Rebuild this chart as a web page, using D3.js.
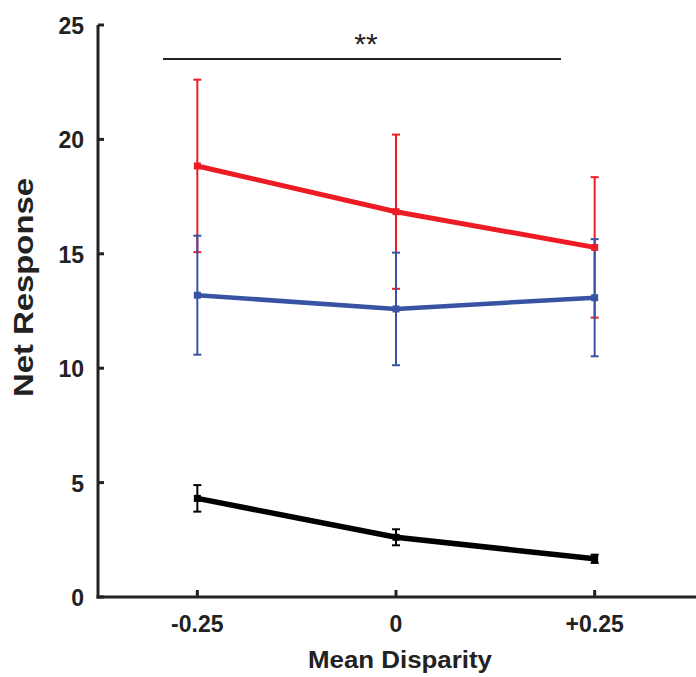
<!DOCTYPE html>
<html>
<head>
<meta charset="utf-8">
<script src="https://cdn.jsdelivr.net/npm/d3@7"></script>
<style>
  body { margin: 0; background: #fff; }
  text { font-family: "Liberation Sans", Arial, sans-serif; fill: #222; }
</style>
</head>
<body>
<svg id="grafico" width="696" height="677"></svg>
<script>
// Datos
var disparidades = [-0.25, 0, 0.25];
var etiquetasX = ["-0.25", "0", "+0.25"];
var ticksY = [0, 5, 10, 15, 20, 25];

var rojoMedia = [18.84, 16.84, 15.28];
var rojoError = [3.77, 3.37, 3.07];
var azulMedia = [13.19, 12.59, 13.08];
var azulError = [2.6, 2.46, 2.56];
var negroMedia = [4.31, 2.61, 1.67];
var negroError = [0.58, 0.35, 0.18];

var series = [
    { media: rojoMedia, error: rojoError, color: "#ed1c24", grosor: 5 },
    { media: azulMedia, error: azulError, color: "#3853a4", grosor: 4.5 },
    { media: negroMedia, error: negroError, color: "#000000", grosor: 5.5 }
];

var svg = d3.select("#grafico");

var x = d3.scaleLinear().domain([-0.375, 0.375]).range([98, 694]);
var y = d3.scaleLinear().domain([0, 25]).range([597, 25]);

// Ejes
svg.append("line")
    .attr("x1", x(-0.375)).attr("x2", x(-0.375))
    .attr("y1", y(25)).attr("y2", y(0) + 1.5)
    .attr("stroke", "#222").attr("stroke-width", 3);
svg.append("line")
    .attr("x1", x(-0.375) - 1.5).attr("x2", 696)
    .attr("y1", y(0)).attr("y2", y(0))
    .attr("stroke", "#222").attr("stroke-width", 3);

ticksY.forEach(function(t){
    svg.append("line")
        .attr("x1", x(-0.375)).attr("x2", x(-0.375) + 6)
        .attr("y1", y(t)).attr("y2", y(t))
        .attr("stroke", "#222").attr("stroke-width", 3);
    svg.append("text")
        .attr("x", 84).attr("y", y(t) + 1)
        .attr("text-anchor", "end")
        .attr("dominant-baseline", "central")
        .style("font-weight", "bold")
        .style("font-size", "23px")
        .text(t);
});

disparidades.forEach(function(d, i){
    svg.append("line")
        .attr("x1", x(d)).attr("x2", x(d))
        .attr("y1", y(0)).attr("y2", y(0) - 7)
        .attr("stroke", "#222").attr("stroke-width", 3);
    svg.append("text")
        .attr("x", x(d)).attr("y", 624)
        .attr("text-anchor", "middle")
        .attr("dominant-baseline", "central")
        .style("font-weight", "bold")
        .style("font-size", "23px")
        .text(etiquetasX[i]);
});

// Títulos de ejes
svg.append("text")
    .attr("x", 308).attr("y", 668)
    .attr("textLength", 184)
    .attr("lengthAdjust", "spacingAndGlyphs")
    .style("font-weight", "bold")
    .style("font-size", "23px")
    .text("Mean Disparity");
svg.append("text")
    .attr("transform", "translate(33,397) rotate(-90)")
    .attr("textLength", 219)
    .attr("lengthAdjust", "spacingAndGlyphs")
    .style("font-weight", "bold")
    .style("font-size", "28px")
    .text("Net Response");

// Barras de error
series.forEach(function(s){
    var g = svg.append("g");
    disparidades.forEach(function(d, i){
        var arriba = y(s.media[i] + s.error[i]);
        var abajo = y(s.media[i] - s.error[i]);
        g.append("line")
            .attr("x1", x(d)).attr("x2", x(d))
            .attr("y1", arriba).attr("y2", abajo)
            .attr("stroke", s.color).attr("stroke-width", 2);
        [arriba, abajo].forEach(function(yy){
            g.append("line")
                .attr("x1", x(d) - 4).attr("x2", x(d) + 4)
                .attr("y1", yy).attr("y2", yy)
                .attr("stroke", s.color).attr("stroke-width", 2);
        });
    });
});

// Líneas y marcadores
var linea = d3.line()
    .x(function(d){ return x(d[0]); })
    .y(function(d){ return y(d[1]); });

series.forEach(function(s){
    var puntos = disparidades.map(function(d, i){ return [d, s.media[i]]; });
    svg.append("path")
        .datum(puntos)
        .attr("d", linea)
        .attr("fill", "none")
        .attr("stroke", s.color)
        .attr("stroke-width", s.grosor);
    svg.selectAll(null)
        .data(puntos)
        .enter()
        .append("rect")
        .attr("x", function(d){ return x(d[0]) - 3.5; })
        .attr("y", function(d){ return y(d[1]) - 3.5; })
        .attr("width", 7).attr("height", 7)
        .attr("fill", s.color);
});

// Significancia
svg.append("line")
    .attr("x1", 163).attr("x2", 561)
    .attr("y1", 59).attr("y2", 59)
    .attr("stroke", "#222").attr("stroke-width", 2);
svg.append("text")
    .attr("x", 366).attr("y", 54)
    .attr("text-anchor", "middle")
    .style("font-size", "30px")
    .text("**");
</script>
</body>
</html>
